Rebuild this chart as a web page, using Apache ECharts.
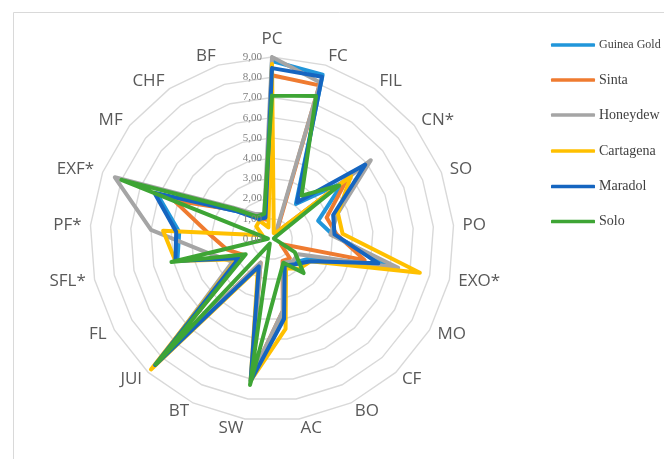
<!DOCTYPE html>
<html>
<head>
<meta charset="utf-8">
<script src="https://cdn.jsdelivr.net/npm/echarts@6/dist/echarts.min.js"></script>
<style>
html,body{margin:0;padding:0;background:#fff;}
#chart{width:664px;height:459px;}
</style>
</head>
<body>
<div id="chart"></div>
<script>
// Axes in clockwise order starting at the top
const indicators = ['PC','FC','FIL','CN*','SO','PO','EXO*','MO','CF','BO','AC','SW','BT','JUI','FL','SFL*','PF*','EXF*','MF','CHF','BF'];
const seriesNames = ['Guinea Gold','Sinta','Honeydew','Cartagena','Maradol','Solo'];
const guineaGold = [8.8, 8.5, 2.1, 4.5, 2.45, 3.0, 6.0, 2.0, 1.6, 1.4, 3.8, 7.0, 1.4, 8.3, 1.8, 4.8, 4.6, 6.1, 2.2, 1.3, 1.1];
const sinta      = [8.1, 7.95, 0.4, 4.75, 2.9, 3.2, 4.7, 0.5, 1.3, 1.2, 3.6, 6.9, 1.3, 8.1, 1.6, 2.3, 3.1, 5.2, 2.3, 1.3, 1.0];
const honeydew   = [9.0, 8.1, 0.3, 6.25, 3.5, 2.9, 6.4, 1.5, 1.5, 1.3, 3.6, 6.9, 1.3, 8.2, 2.25, 3.2, 6.0, 8.35, 2.5, 1.5, 1.3];
const cartagena  = [8.65, 0.3, 0.4, 5.0, 3.5, 3.5, 7.5, 2.2, 2.0, 1.6, 4.5, 7.1, 1.6, 8.8, 2.0, 4.9, 5.4, 0.5, 1.0, 1.1, 0.6];
const maradol    = [8.45, 8.4, 2.2, 5.9, 3.25, 3.1, 5.4, 2.2, 1.7, 1.45, 4.0, 7.1, 1.5, 8.5, 1.9, 4.9, 4.75, 6.25, 2.2, 1.2, 1.1];
const solo       = [7.1, 7.4, 2.6, 4.25, 0.1, 0.1, 0.2, 1.3, 2.3, 1.3, 2.1, 7.3, 0.25, 8.45, 1.5, 5.1, 0.2, 8.0, 2.4, 1.35, 1.3];
const axisMin = 0, axisMax = 9, axisStep = 1;

const allValues = [guineaGold, sinta, honeydew, cartagena, maradol, solo];
const colors = ['#2196DA','#EF7B30','#A5A5A5','#FFC000','#1565C0','#3EA535'];
const legendCenters = [40, 75, 110, 146, 181.5, 216.5];
const legendSizes = [12, 14, 14, 14, 14, 14];

// ECharts places radar indicators counter-clockwise; reorder to get clockwise layout
const order = [0];
for (let i = indicators.length - 1; i >= 1; i--) order.push(i);
const reorder = arr => order.map(i => arr[i]);

const chart = echarts.init(document.getElementById('chart'), null, {renderer: 'canvas'});

const series = seriesNames.map((name, k) => ({
  type: 'radar',
  name: name,
  symbol: 'none',
  silent: true,
  lineStyle: {width: 4, color: colors[k], join: 'round', cap: 'round'},
  itemStyle: {color: colors[k]},
  data: [{name: name, value: reorder(allValues[k])}]
}));

const legends = seriesNames.map((name, k) => ({
  show: true,
  orient: 'vertical',
  left: 546,
  top: legendCenters[k] - 7,
  itemWidth: 44,
  itemHeight: 3.5,
  icon: 'roundRect',
  itemGap: 0,
  selectedMode: false,
  data: [name],
  textStyle: {fontFamily: 'Liberation Serif', fontSize: legendSizes[k], color: '#404040', lineHeight: 14, padding: [0,0,0,-1]}
}));

const option = {
  animation: false,
  backgroundColor: '#ffffff',
  graphic: [{
    type: 'rect', silent: true,
    shape: {x: 13.5, y: 12.5, width: 700, height: 500},
    style: {fill: 'none', stroke: '#d9d9d9', lineWidth: 1}
  }],
  legend: legends,
  radar: {
    center: [272, 239],
    radius: 182,
    startAngle: 90,
    splitNumber: 9,
    shape: 'polygon',
    nameGap: 9,
    indicator: reorder(indicators).map(n => ({name: n, min: axisMin, max: axisMax})),
    axisName: {color: '#595959', fontSize: 17, fontFamily: 'Open Sans'},
    splitLine: {lineStyle: {color: '#d9d9d9', width: 1.4}},
    splitArea: {show: false},
    axisLine: {show: false},
    axisTick: {show: false},
    axisLabel: {show: false}
  },
  grid: {left: 271, top: 239 - 182, width: 2, height: 182, containLabel: false},
  xAxis: {type: 'value', show: false, min: 0, max: 1},
  yAxis: {
    type: 'value', min: axisMin, max: axisMax, interval: axisStep,
    axisLine: {show: false}, axisTick: {show: false}, splitLine: {show: false},
    axisLabel: {
      margin: 9, color: '#7f7f7f', fontFamily: 'Liberation Serif', fontSize: 11,
      formatter: v => v.toFixed(2).replace('.', ',')
    },
    z: 3
  },
  series: series
};
chart.setOption(option);
</script>
</body>
</html>
